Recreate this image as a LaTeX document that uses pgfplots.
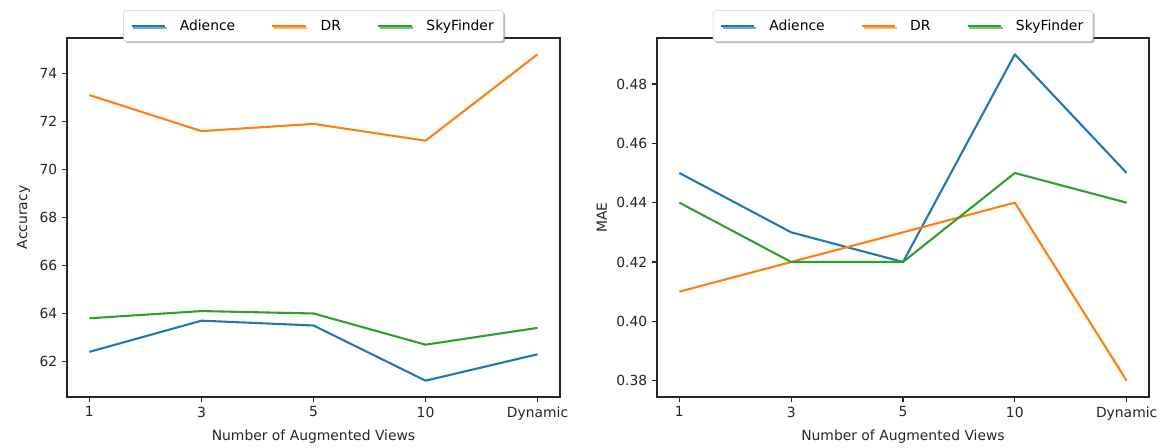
\documentclass[border=0pt]{standalone}
\usepackage{pgfplots}
\pgfplotsset{compat=1.18}
\usepackage{fontspec}
\setmainfont{DejaVu Sans}
\usetikzlibrary{shadows}
\definecolor{tabblue}{HTML}{1F77B4}
\definecolor{taborange}{HTML}{FF7F0E}
\definecolor{tabgreen}{HTML}{2CA02C}
\pgfplotsset{
  mpl/.style={
    scale only axis,
    width=354.96pt, height=258.48pt,
    axis line style={line width=0.8pt, black!85},
    tick align=outside, tick pos=left,
    major tick length=3.5pt,
    every tick/.style={line width=0.8pt, black!85},
    xmin=-0.2, xmax=4.2,
    xtick={0,1,2,3,4},
    xticklabels={1,3,5,10,Dynamic},
    /pgf/number format/assume math mode=true,
    ticklabel style={font=\fontsize{10}{12}\selectfont, black!85},
    label style={font=\fontsize{10}{12}\selectfont, black!85},
    xlabel={Number of Augmented Views},
    legend columns=3,
    legend cell align=left,
    legend style={
      at={(0.5,1)}, anchor=center, yshift=8.64pt,
      draw=black!20, fill=white, rounded corners=2pt,
      drop shadow={shadow xshift=1.2pt, shadow yshift=-1.2pt, fill=black!45, opacity=0.6},
      font=\fontsize{10}{12}\selectfont,
      inner xsep=5pt, inner ysep=4.5pt,
      /tikz/every odd column/.append style={column sep=8pt},
      /tikz/every even column/.append style={column sep=24pt},
    },
    legend image code/.code={\draw[#1] (0pt,0pt) -- (24pt,0pt);},
    every axis plot/.append style={line width=1.5pt, line join=round},
  }
}
\begin{document}
\begin{tikzpicture}
\begin{axis}[mpl, at={(0pt,0pt)}, anchor=south west,
  ymin=60.52, ymax=75.48,
  ytick={62,64,66,68,70,72,74},
  ylabel={Accuracy},
]
\addplot[tabblue] coordinates {(0,62.4) (1,63.7) (2,63.5) (3,61.2) (4,62.3)};
\addlegendentry{Adience}
\addplot[taborange] coordinates {(0,73.1) (1,71.6) (2,71.9) (3,71.2) (4,74.8)};
\addlegendentry{DR}
\addplot[tabgreen] coordinates {(0,63.8) (1,64.1) (2,64.0) (3,62.7) (4,63.4)};
\addlegendentry{SkyFinder}
\end{axis}
\begin{axis}[mpl, at={(424.8pt,0pt)}, anchor=south west,
  width=354.24pt,
  ymin=0.3745, ymax=0.4955,
  ytick={0.38,0.40,0.42,0.44,0.46,0.48},
  scaled y ticks=false,
  yticklabel style={/pgf/number format/fixed, /pgf/number format/fixed zerofill, /pgf/number format/precision=2},
  ylabel={MAE},
]
\addplot[tabblue] coordinates {(0,0.45) (1,0.43) (2,0.42) (3,0.49) (4,0.45)};
\addlegendentry{Adience}
\addplot[taborange] coordinates {(0,0.41) (1,0.42) (2,0.43) (3,0.44) (4,0.38)};
\addlegendentry{DR}
\addplot[tabgreen] coordinates {(0,0.44) (1,0.42) (2,0.42) (3,0.45) (4,0.44)};
\addlegendentry{SkyFinder}
\end{axis}
\pgfresetboundingbox
\path (-48.24pt,-36.72pt) rectangle (795.6pt,285.84pt);
\end{tikzpicture}
\end{document}
